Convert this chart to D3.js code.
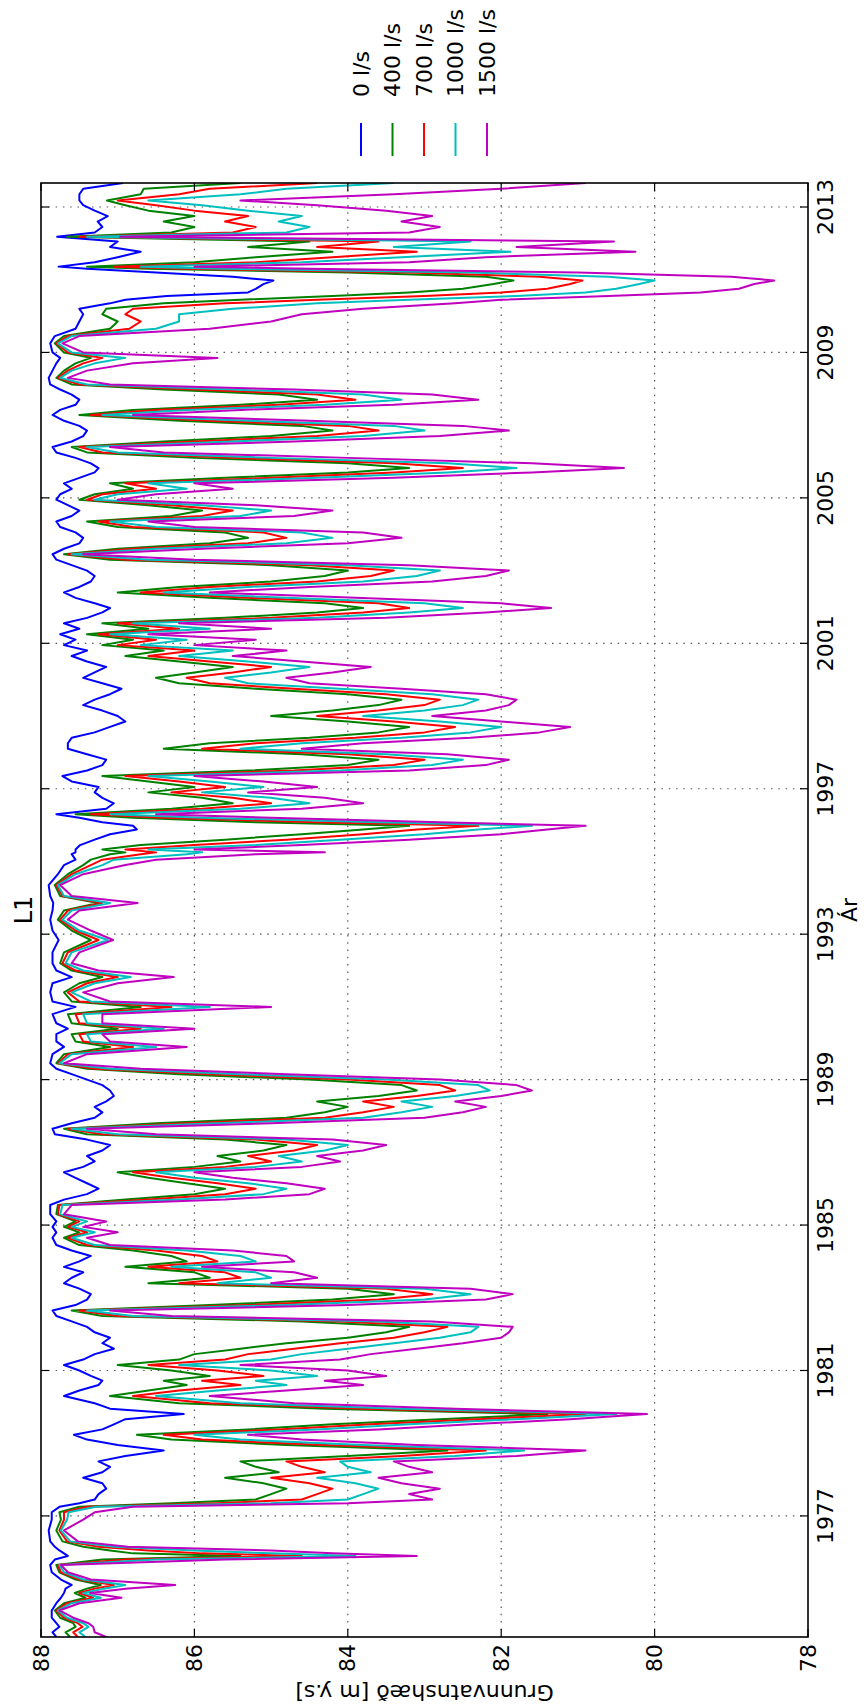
<!DOCTYPE html>
<html><head><meta charset="utf-8">
<script src="https://cdn.jsdelivr.net/npm/d3@7"></script>
<style>body{margin:0;background:#fff} svg{display:block}</style>
</head><body>
<svg id="c" width="866" height="1708"></svg>
<script>
const years=[
1973.67,1973.80,1973.95,1974.05,1974.20,1974.40,1974.60,1974.75,1974.88,1975.00,1975.10,1975.25,1975.45,1975.65,1975.80,1975.90,1975.97,1976.05,1976.15,1976.30,1976.60,1976.90,1977.10,1977.25,
1977.35,1977.45,1977.60,1977.75,1977.90,1978.05,1978.20,1978.35,1978.50,1978.65,1978.80,1978.95,1979.10,1979.23,1979.38,1979.52,1979.66,1979.80,1979.95,1980.10,1980.30,1980.45,1980.60,1980.72,1980.85,1981.00,
1981.15,1981.30,1981.45,1981.60,1981.75,1981.90,1982.05,1982.20,1982.35,1982.50,1982.65,1982.80,1982.95,1983.10,1983.25,1983.40,1983.55,1983.70,1983.85,1984.00,1984.15,1984.30,1984.45,1984.65,1984.80,1984.95,1985.10,1985.30,
1985.55,1985.70,1985.85,1986.00,1986.15,1986.30,1986.45,1986.60,1986.75,1986.90,1987.05,1987.20,1987.35,1987.50,1987.65,1987.80,1987.95,1988.10,1988.25,1988.40,1988.55,1988.70,1988.85,1989.00,1989.15,1989.30,1989.45,
1989.70,1989.90,1990.05,1990.25,1990.40,1990.55,1990.80,1991.00,1991.15,1991.40,1991.65,1991.82,1992.00,1992.20,1992.50,1992.84,1993.10,1993.40,1993.65,1993.86,1994.05,1994.35,1994.65,1994.90,1995.05,1995.20,1995.25,1995.33,
1995.45,1995.60,1995.75,1995.88,1995.98,1996.08,1996.20,1996.30,1996.45,1996.60,1996.75,1996.90,1997.05,1997.20,1997.35,1997.50,1997.65,1997.80,1997.95,1998.10,1998.25,1998.40,1998.55,1998.70,1998.85,1999.00,1999.15,1999.30,1999.45,1999.60,1999.75,1999.90,2000.05,2000.20,2000.35,2000.50,2000.65,2000.80,2000.95,
2001.10,2001.25,2001.40,2001.55,2001.70,2001.85,2001.97,2002.10,2002.25,2002.40,2002.55,2002.70,2002.85,2003.00,2003.15,2003.30,2003.45,2003.60,2003.75,2003.90,2004.05,2004.20,2004.35,2004.50,2004.65,2004.80,2004.95,
2005.10,2005.25,2005.40,2005.55,2005.70,2005.82,2005.95,2006.10,2006.25,2006.40,2006.55,2006.70,2006.85,2006.98,2007.12,2007.28,2007.42,2007.56,2007.70,2007.84,2007.98,2008.12,2008.30,2008.50,2008.70,2008.85,2009.00,2009.25,2009.45,
2009.65,2009.85,2010.05,2010.20,2010.35,2010.45,2010.55,2010.65,2010.75,2010.88,2010.98,2011.08,2011.20,2011.30,2011.36,2011.48,2011.62,2011.77,2011.90,2012.05,2012.18,2012.30,2012.45,2012.60,2012.75,2012.90,2013.05,2013.18,2013.35,2013.50,2013.66
];
const q0=[
87.80,87.85,87.76,87.80,87.86,87.86,87.80,87.74,87.70,87.68,87.60,87.74,87.86,87.88,87.82,87.65,87.70,87.76,87.82,87.88,87.90,87.86,87.86,87.76,
87.50,87.30,87.25,87.15,87.20,87.45,87.20,87.10,87.25,86.90,86.40,87.00,87.40,87.57,87.20,87.05,86.90,86.14,87.10,87.30,87.70,87.50,87.25,87.20,87.35,87.50,
87.70,87.45,87.30,87.05,87.20,87.10,87.30,87.40,87.60,87.80,87.85,87.55,87.40,87.35,87.50,87.70,87.60,87.45,87.70,87.50,87.35,87.60,87.80,87.85,87.80,87.85,87.80,87.88,
87.88,87.70,87.40,87.25,87.40,87.55,87.70,87.45,87.30,87.40,87.20,87.10,87.40,87.82,87.85,87.60,87.30,87.20,87.30,87.15,87.05,87.10,87.20,87.40,87.60,87.80,87.88,
87.85,87.70,87.80,87.80,87.65,87.80,87.85,87.55,87.85,87.88,87.85,87.60,87.80,87.85,87.85,87.77,87.85,87.88,87.85,87.84,87.88,87.90,87.78,87.70,87.55,87.60,87.55,87.55,
87.49,87.30,87.10,86.75,86.80,87.20,87.50,87.80,87.15,87.05,87.20,87.30,87.25,87.60,87.72,87.40,87.20,87.15,87.40,87.65,87.65,87.60,87.30,87.10,86.90,87.00,87.20,87.45,87.30,87.10,86.95,87.20,87.45,87.30,87.15,87.40,87.60,87.40,87.70,
87.55,87.75,87.50,87.70,87.40,87.20,87.10,87.30,87.55,87.70,87.50,87.35,87.30,87.40,87.60,87.80,87.85,87.70,87.50,87.45,87.55,87.75,87.80,87.60,87.50,87.65,87.80,
87.75,87.60,87.70,87.50,87.30,87.25,87.35,87.55,87.80,87.85,87.60,87.45,87.40,87.50,87.70,87.85,87.75,87.55,87.50,87.60,87.75,87.88,87.90,87.85,87.80,87.75,87.85,87.88,87.82,
87.55,87.50,87.45,87.50,87.10,86.90,86.36,85.30,85.20,85.10,84.97,85.50,86.50,87.40,87.77,87.30,87.00,86.70,87.10,87.00,87.79,87.30,87.20,87.26,87.13,87.30,87.45,87.50,87.50,87.45,86.93
];
const q400=[
87.62,87.68,87.55,87.58,87.75,87.82,87.70,87.42,87.56,87.40,87.22,87.55,87.76,87.80,87.20,85.40,86.80,87.10,87.45,87.72,87.80,87.74,87.76,87.50,
86.30,85.20,85.00,84.80,85.10,85.60,84.90,85.20,85.40,84.00,82.70,84.80,86.30,86.75,85.30,84.20,82.80,81.40,84.30,86.20,87.10,86.60,86.10,86.40,85.80,86.30,
87.00,86.20,86.00,85.40,84.80,84.00,83.50,83.20,84.60,87.20,87.60,85.80,84.20,83.40,84.00,86.60,85.80,86.00,86.90,86.10,86.30,86.80,87.50,87.70,87.50,87.70,87.55,87.80,
87.78,86.90,86.00,85.60,86.10,86.60,87.00,86.00,85.40,85.70,85.10,84.80,85.60,87.40,87.70,86.50,84.80,84.30,84.00,84.40,83.60,83.10,83.30,84.50,86.20,87.40,87.80,
87.70,87.10,87.55,87.60,87.00,87.60,87.65,86.70,87.60,87.70,87.50,87.20,87.60,87.75,87.70,87.35,87.60,87.78,87.70,87.25,87.75,87.82,87.65,87.45,87.35,87.10,86.90,87.20,
86.70,85.60,84.60,83.80,83.20,85.20,86.80,87.55,86.30,85.50,85.90,86.60,86.00,86.60,87.20,85.30,84.00,83.60,84.60,86.40,85.80,84.50,83.60,83.20,84.00,85.00,84.20,83.60,83.30,84.00,85.20,86.20,86.50,86.00,85.50,86.20,86.90,86.40,87.20,
86.80,87.40,86.60,87.20,85.60,84.40,83.80,84.30,85.80,87.00,86.20,85.00,84.30,84.00,85.00,87.10,87.70,87.00,85.80,85.30,85.60,87.00,87.40,86.30,85.90,86.60,87.50,
87.30,86.80,87.10,85.60,84.00,83.20,84.00,86.00,87.40,87.60,86.40,85.00,84.20,84.60,86.20,87.50,86.80,85.40,84.40,84.90,86.40,87.60,87.80,87.70,87.55,87.35,87.70,87.82,87.70,
87.10,87.00,87.20,87.15,86.40,85.40,84.20,83.20,82.50,82.10,81.84,82.20,84.00,86.60,87.40,86.00,85.20,84.20,85.30,84.50,87.66,86.30,86.00,86.40,86.00,86.60,86.90,87.14,86.70,86.66,85.40
];
const q700=[
87.52,87.58,87.46,87.52,87.70,87.80,87.66,87.32,87.50,87.30,87.05,87.50,87.74,87.78,86.90,84.60,85.90,86.60,87.25,87.66,87.76,87.70,87.70,87.40,
85.70,84.60,84.40,84.20,84.50,85.00,84.30,84.60,84.80,83.30,82.20,84.30,85.90,86.40,84.90,83.70,82.30,80.90,83.80,85.80,86.80,86.20,85.40,85.90,85.10,85.70,
86.60,85.60,85.30,84.70,84.10,83.40,83.00,82.70,84.10,87.00,87.50,85.30,83.60,82.90,83.50,86.20,85.40,85.60,86.60,85.70,85.90,86.50,87.40,87.65,87.40,87.65,87.50,87.78,
87.76,86.60,85.60,85.20,85.70,86.30,86.80,85.60,85.00,85.30,84.70,84.40,85.20,87.20,87.65,86.10,84.30,83.80,83.40,83.80,83.10,82.60,82.80,84.00,85.80,87.30,87.78,
87.65,86.80,87.45,87.50,86.70,87.50,87.55,86.30,87.50,87.65,87.40,87.00,87.55,87.72,87.65,87.25,87.55,87.75,87.65,87.20,87.72,87.80,87.60,87.35,87.20,86.70,86.50,86.90,
86.00,84.80,83.80,83.10,82.30,84.40,86.40,87.35,85.90,85.00,85.50,86.30,85.60,86.20,86.90,84.70,83.40,83.00,84.00,85.90,85.20,83.90,83.00,82.60,83.40,84.40,83.60,83.00,82.80,83.50,84.70,85.80,86.10,85.50,85.00,85.80,86.60,86.00,87.00,
86.50,87.25,86.20,87.00,85.00,83.80,83.20,83.60,85.30,86.70,85.80,84.40,83.70,83.40,84.50,86.90,87.65,86.80,85.30,84.80,85.10,86.80,87.25,85.90,85.50,86.30,87.40,
87.20,86.50,86.90,85.00,83.40,82.50,83.40,85.50,87.20,87.50,86.00,84.40,83.60,84.00,85.80,87.35,86.50,84.90,83.90,84.40,86.00,87.50,87.78,87.65,87.45,87.20,87.65,87.80,87.65,
86.85,86.70,86.90,86.80,85.60,84.40,83.00,82.00,81.40,81.10,80.94,81.50,83.20,86.10,87.05,85.20,84.20,83.10,84.40,83.60,87.50,85.50,85.20,85.60,85.30,86.00,86.50,87.00,86.20,85.80,84.40
];
const q1000=[
87.42,87.50,87.38,87.45,87.66,87.78,87.60,87.22,87.45,87.18,86.90,87.45,87.70,87.76,86.50,83.90,85.00,86.00,87.05,87.62,87.74,87.66,87.64,87.28,
85.00,84.00,83.80,83.60,83.90,84.40,83.70,84.00,84.10,82.60,81.70,83.80,85.40,86.00,84.40,83.20,81.80,80.50,83.30,85.40,86.50,85.70,84.80,85.20,84.40,85.00,
86.20,85.00,84.60,84.00,83.40,82.80,82.40,82.30,83.60,86.80,87.40,84.80,83.00,82.40,83.00,85.70,85.00,85.20,86.30,85.20,85.40,86.10,87.30,87.60,87.30,87.60,87.40,87.75,
87.72,86.20,85.10,84.80,85.30,86.00,86.50,85.20,84.60,84.90,84.30,84.00,84.80,87.00,87.60,85.70,83.80,83.30,82.90,83.30,82.60,82.15,82.30,83.50,85.40,87.10,87.76,
87.60,86.50,87.35,87.40,86.40,87.40,87.45,85.80,87.35,87.60,87.30,86.83,87.45,87.68,87.60,87.13,87.50,87.72,87.60,87.10,87.70,87.78,87.55,87.20,87.05,86.10,85.90,86.60,
85.20,84.10,83.00,82.30,81.60,83.60,85.90,87.10,85.40,84.50,85.00,85.90,85.10,85.80,86.60,84.10,82.90,82.50,83.50,85.40,84.60,83.30,82.40,82.00,82.80,83.80,83.00,82.50,82.30,82.90,84.10,85.30,85.60,85.00,84.50,85.30,86.20,85.50,86.70,
86.10,87.10,85.80,86.80,84.40,83.20,82.50,83.00,84.80,86.40,85.30,83.80,83.10,82.80,84.00,86.60,87.60,86.50,84.80,84.20,84.60,86.50,87.10,85.40,85.00,85.90,87.30,
87.00,86.10,86.60,84.40,82.70,81.80,82.70,85.00,87.00,87.40,85.50,83.80,83.00,83.40,85.30,87.20,86.10,84.30,83.30,83.80,85.50,87.40,87.75,87.60,87.30,86.90,87.60,87.78,87.60,
86.50,86.20,86.20,85.50,84.40,83.20,81.80,80.90,80.50,80.20,80.00,80.60,82.40,85.60,86.70,84.60,83.30,81.88,83.40,82.40,87.40,84.80,84.50,84.90,84.60,85.30,85.90,86.60,85.40,84.80,83.40
];
const q1500=[
87.15,87.30,87.32,87.38,87.58,87.76,87.50,86.95,87.36,86.90,86.25,87.35,87.65,87.74,85.60,83.10,84.20,85.00,86.87,87.52,87.70,87.45,87.30,86.80,
84.00,82.90,83.20,82.80,83.30,83.60,82.90,83.20,83.40,81.80,80.90,83.10,84.60,85.30,83.60,82.40,81.10,80.10,82.60,84.70,85.80,84.80,83.80,84.30,83.50,84.00,
85.40,84.10,83.70,83.10,82.50,82.00,81.90,81.85,82.90,86.30,87.10,84.00,82.20,81.85,82.40,85.00,84.40,84.70,85.90,84.70,84.80,85.50,87.10,87.40,87.00,87.45,87.15,87.70,
87.60,85.60,84.50,84.30,84.80,85.50,86.00,84.60,84.10,84.40,83.80,83.50,84.20,86.50,87.40,85.00,83.00,82.50,82.20,82.60,82.00,81.60,81.80,82.80,84.80,86.70,87.70,
87.40,86.10,87.10,87.20,86.00,87.20,87.20,85.00,87.10,87.45,87.00,86.27,87.25,87.60,87.50,87.06,87.35,87.65,87.50,86.74,87.60,87.75,87.45,86.90,86.50,85.20,84.30,86.00,
84.60,83.20,82.00,81.40,80.90,82.80,85.00,86.50,84.60,83.80,84.30,85.30,84.40,85.10,86.00,83.20,82.20,81.90,82.70,84.60,83.80,82.40,81.50,81.10,82.00,82.90,82.20,81.90,81.80,82.20,83.30,84.50,84.80,84.20,83.70,84.60,85.50,84.80,86.00,
85.20,86.60,85.00,86.20,83.50,82.20,81.35,82.00,83.90,85.80,84.50,82.90,82.20,81.90,83.20,86.00,87.45,85.90,84.00,83.30,83.80,86.00,86.60,84.70,84.20,85.20,87.00,
86.50,85.50,86.00,83.40,81.60,80.40,81.60,84.00,86.40,87.10,84.70,82.80,81.90,82.50,84.50,86.80,85.40,83.40,82.30,82.90,84.70,87.10,87.65,87.40,86.80,85.70,87.45,87.72,87.50,
85.80,85.00,84.60,83.80,82.60,82.00,80.60,79.40,78.90,78.70,78.44,79.00,81.00,84.50,86.00,83.20,82.20,80.25,81.80,80.53,86.97,83.20,82.80,83.30,82.90,83.50,84.40,85.40,83.40,82.00,80.90
];
const seriesNames=["0 l/s","400 l/s","700 l/s","1000 l/s","1500 l/s"];
const seriesColors=["#0000ff","#008000","#ff0000","#00bfbf","#bf00bf"];
const valueTicks=[88,86,84,82,80,78];
const yearTicks=[1977,1981,1985,1989,1993,1997,2001,2005,2009,2013];

const svg=d3.select("#c");
const L=41,R=808,T=183,B=1637;
const x=d3.scaleLinear().domain([88,78]).range([L,R]);
const y=d3.scaleLinear().domain([1973.67,2013.66]).range([B,T]);
const FONT="DejaVu Sans, sans-serif";

svg.append("defs").append("clipPath").attr("id","pc")
  .append("rect").attr("x",L).attr("y",T).attr("width",R-L).attr("height",B-T);

// grid
const grid=svg.append("g").attr("stroke","#555").attr("stroke-width",1.2).attr("stroke-dasharray","1.5 5.8");
grid.selectAll("line.v").data(valueTicks.slice(1,-1)).join("line")
  .attr("x1",d=>x(d)).attr("x2",d=>x(d)).attr("y1",T).attr("y2",B);
grid.selectAll("line.h").data(yearTicks).join("line")
  .attr("y1",d=>y(d)).attr("y2",d=>y(d)).attr("x1",L).attr("x2",R);

// series
const all=[q0,q400,q700,q1000,q1500];
const n=Math.min(years.length,...all.map(a=>a.length));
const line=d3.line().x(d=>x(d[1])).y(d=>y(d[0]));
const lg=svg.append("g").attr("clip-path","url(#pc)");
all.forEach((arr,i)=>{
  const pts=years.slice(0,n).map((t,k)=>[t,arr[k]]);
  lg.append("path").datum(pts).attr("d",line).attr("fill","none")
    .attr("stroke",seriesColors[i]).attr("stroke-width",2).attr("stroke-linejoin","round");
});

// frame
svg.append("rect").attr("x",L).attr("y",T).attr("width",R-L).attr("height",B-T)
  .attr("fill","none").attr("stroke","#000").attr("stroke-width",1.6);

// ticks (inward)
const tk=svg.append("g").attr("stroke","#000").attr("stroke-width",1.2);
valueTicks.forEach(v=>{
  tk.append("line").attr("x1",x(v)).attr("x2",x(v)).attr("y1",T).attr("y2",T+8);
  tk.append("line").attr("x1",x(v)).attr("x2",x(v)).attr("y1",B-8).attr("y2",B);
});
yearTicks.forEach(t=>{
  tk.append("line").attr("y1",y(t)).attr("y2",y(t)).attr("x1",L).attr("x2",L+8);
  tk.append("line").attr("y1",y(t)).attr("y2",y(t)).attr("x1",R-8).attr("x2",R);
});

// tick labels
svg.append("g").selectAll("text").data(valueTicks).join("text")
  .attr("transform",d=>`translate(${x(d)},1658) rotate(-90)`)
  .attr("text-anchor","middle").attr("dominant-baseline","central")
  .attr("font-family",FONT).attr("font-size",22).text(d=>d);
svg.append("g").selectAll("text").data(yearTicks).join("text")
  .attr("transform",d=>`translate(825,${y(d)}) rotate(-90)`)
  .attr("text-anchor","middle").attr("dominant-baseline","central")
  .attr("font-family",FONT).attr("font-size",22).text(d=>d);

// axis labels & title
svg.append("text").attr("transform",`translate(${(L+R)/2},1692) rotate(180)`)
  .attr("text-anchor","middle").attr("dominant-baseline","central")
  .attr("font-family",FONT).attr("font-size",22).text("Grunnvatnshæð [m y.s]");
svg.append("text").attr("transform",`translate(849,${(T+B)/2}) rotate(-90)`)
  .attr("text-anchor","middle").attr("dominant-baseline","central")
  .attr("font-family",FONT).attr("font-size",22).text("Ár");
svg.append("text").attr("transform",`translate(24,${(T+B)/2}) rotate(-90)`)
  .attr("text-anchor","middle").attr("dominant-baseline","central")
  .attr("font-family",FONT).attr("font-size",24).text("L1");

// legend
const leg=svg.append("g");
seriesNames.forEach((nm,i)=>{
  const lx=361+31.5*i;
  leg.append("line").attr("x1",lx).attr("x2",lx).attr("y1",123).attr("y2",156)
    .attr("stroke",seriesColors[i]).attr("stroke-width",2);
  leg.append("text").attr("transform",`translate(${lx},97) rotate(-90)`)
    .attr("text-anchor","start").attr("dominant-baseline","central")
    .attr("font-family",FONT).attr("font-size",22).text(nm);
});
</script>
</body></html>
